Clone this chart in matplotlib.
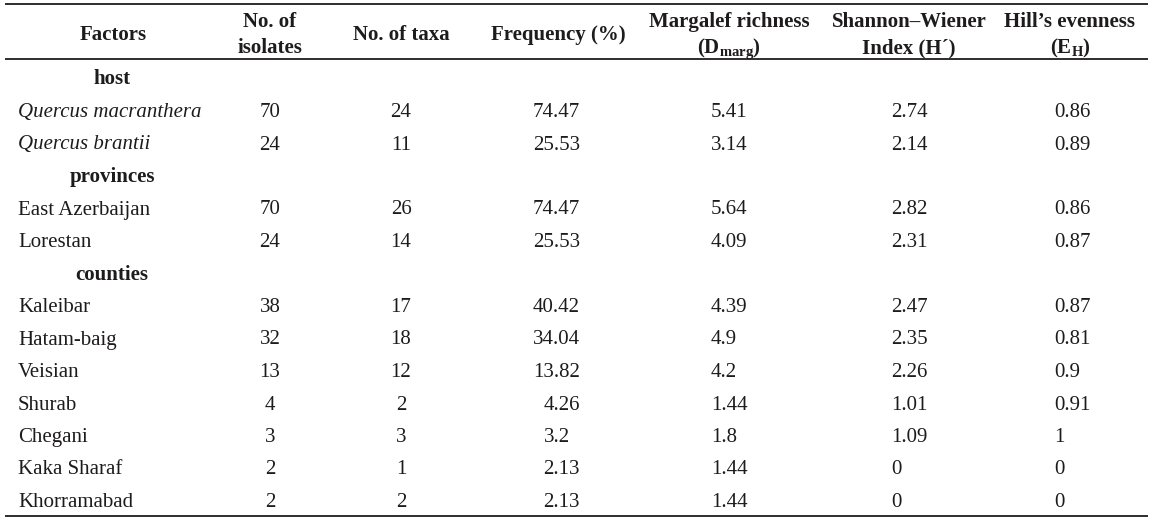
import matplotlib
matplotlib.use("Agg")
import matplotlib.pyplot as plt

# table content
factors = ["host", "Quercus macranthera", "Quercus brantii",
           "provinces", "East Azerbaijan", "Lorestan",
           "counties", "Kaleibar", "Hatam-baig", "Veisian", "Shurab",
           "Chegani", "Kaka Sharaf", "Khorramabad"]
group_rows = ["host", "provinces", "counties"]
italic_rows = ["Quercus macranthera", "Quercus brantii"]

isolates = ["70", "24", "70", "24", "38", "32", "13", "4", "3", "2", "2"]
taxa = ["24", "11", "26", "14", "17", "18", "12", "2", "3", "1", "2"]
freq = ["74.47", "25.53", "74.47", "25.53", "40.42", "34.04", "13.82",
        "4.26", "3.2", "2.13", "2.13"]
margalef = ["5.41", "3.14", "5.64", "4.09", "4.39", "4.9", "4.2",
            "1.44", "1.8", "1.44", "1.44"]
shannon = ["2.74", "2.14", "2.82", "2.31", "2.47", "2.35", "2.26",
           "1.01", "1.09", "0", "0"]
hill = ["0.86", "0.89", "0.86", "0.87", "0.87", "0.81", "0.9",
        "0.91", "1", "0", "0"]

plt.rcParams["font.family"] = "Liberation Serif"
plt.rcParams["mathtext.fontset"] = "custom"
plt.rcParams["mathtext.rm"] = "Liberation Serif"
plt.rcParams["mathtext.it"] = "Liberation Serif:italic"
plt.rcParams["mathtext.bf"] = "Liberation Serif:bold"

W, H = 1158, 526
fig = plt.figure(figsize=(W / 100, H / 100), dpi=100)
ax = fig.add_axes([0, 0, 1, 1])
ax.set_xlim(0, W)
ax.set_ylim(H, 0)
ax.axis("off")

fs = 15
col = "#1e1b1c"
digit_w = fs * 100 / 72 * 0.5  # Times digits are half an em wide

# rules
for y in (4, 59, 516):
    ax.hlines(y, 5, 1148, color=col, lw=1.3)

# header
hdr = dict(fontsize=fs, fontweight="bold", color=col, ha="center", va="baseline")
ax.text(113, 40, "Factors", **hdr)
ax.text(270, 27, "No. of", **hdr)
ax.text(270, 53, "isolates", **hdr)
ax.text(401, 40, "No. of taxa", **hdr)
ax.text(558, 40, "Frequency (%)", **hdr)
ax.text(729, 27, "Margalef richness", **hdr)
ax.text(729, 53, r"(D$_{\mathbf{marg}}$)", **hdr)
ax.text(909, 27, "Shannon\u2013Wiener", **hdr)
ax.text(909, 53, "Index (H\u00b4)", **hdr)
ax.text(1070, 27, "Hill\u2019s evenness", **hdr)
ax.text(1070, 53, r"(E$_{\mathbf{H}}$)", **hdr)

# body
row0, step = 77.5, 32.5
k = 0
for i, name in enumerate(factors):
    yb = row0 + step * i + 7
    if name in group_rows:
        ax.text(112, yb, name, fontsize=fs, fontweight="bold", color=col,
                ha="center", va="baseline")
        continue
    style = "italic" if name in italic_rows else "normal"
    ax.text(18, yb, name, fontsize=fs, style=style, color=col, va="baseline")
    txt = dict(fontsize=fs, color=col, va="baseline")
    ax.text(270, yb, isolates[k], ha="center", **txt)
    ax.text(401, yb, taxa[k], ha="center", **txt)
    # frequency column lines up on the decimal point
    n_frac = len(freq[k].partition(".")[2])
    ax.text(580 - (2 - n_frac) * digit_w, yb, freq[k], ha="right", **txt)
    ax.text(711, yb, margalef[k], ha="left", **txt)
    ax.text(891, yb, shannon[k], ha="left", **txt)
    ax.text(1054, yb, hill[k], ha="left", **txt)
    k += 1

fig.savefig("out.png", dpi=100)
